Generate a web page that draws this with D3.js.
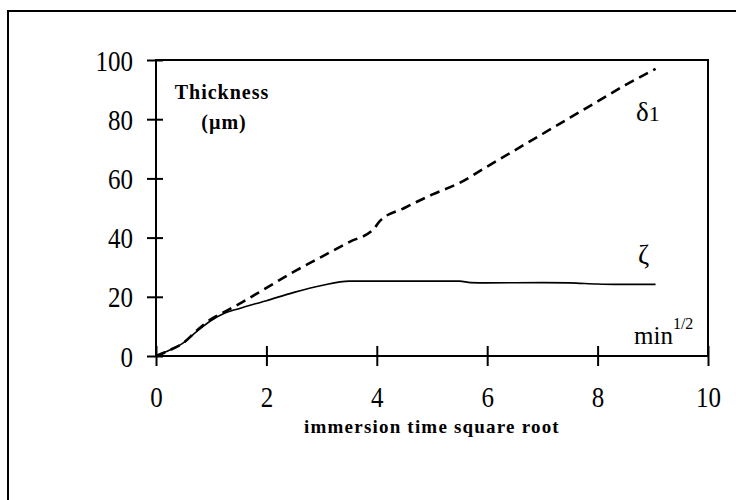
<html>
  <head>
    <script src="https://d3js.org/d3.v7.min.js"></script>
    <style>
      body { margin: 0; background: white; overflow: hidden; }
      svg { display: block; }
      text { font-family: "Liberation Serif", "DejaVu Serif", serif; fill: black; }
    </style>
  </head>
  <body>
    <div id="chart"></div>
    <script>
      // immersion time square root (min^1/2) and thickness (um)
      const zetaX = [0, 0.25, 0.5, 0.75, 1, 1.25, 1.5, 2, 2.5, 3, 3.5, 4, 5, 5.5, 5.7, 6, 7, 7.5, 8, 8.3, 9.05];
      const zetaY = [0, 2, 4.5, 8.5, 12, 14.5, 16, 18.7, 21.5, 23.8, 25.3, 25.3, 25.3, 25.3, 24.8, 24.7, 24.8, 24.7, 24.3, 24.2, 24.2];
      const deltaX = [0, 0.25, 0.5, 0.75, 1, 1.25, 1.5, 2, 2.5, 3, 3.5, 3.95, 4.05, 4.5, 5, 5.5, 6, 6.5, 7, 7.5, 8, 8.5, 9.05];
      const deltaY = [0, 2, 4.5, 8.8, 12.5, 15, 17.5, 23, 28.5, 33.5, 38.5, 43, 45.5, 50, 54.5, 58.5, 64, 69.5, 75, 80.5, 86, 91.5, 97];
      const xTicks = [0, 2, 4, 6, 8, 10];
      const yTicks = [0, 20, 40, 60, 80, 100];

      const width = 736, height = 500;
      const margin = ({top: 60, right: 28, bottom: 144, left: 156});
      const sy = 1.18; // tall serif digits of the scan

      const svg = d3.create('svg')
        .attr('width', width)
        .attr('height', height);

      // outer frame
      svg.append('rect')
        .attr('x', 8).attr('y', 11)
        .attr('width', 800).attr('height', 600)
        .attr('fill', 'none').attr('stroke', 'black').attr('stroke-width', 2);

      const x = d3.scaleLinear().domain([0, 10]).range([margin.left, width - margin.right]);
      const y = d3.scaleLinear().domain([0, 100]).range([height - margin.bottom, margin.top]);

      // plot box
      svg.append('rect')
        .attr('x', x(0)).attr('y', y(100))
        .attr('width', x(10) - x(0)).attr('height', y(0) - y(100))
        .attr('fill', 'none').attr('stroke', 'black').attr('stroke-width', 2);

      // x axis, ticks crossing the line
      const xAxis = svg.append('g')
        .attr('transform', `translate(0, ${y(0)})`)
        .call(d3.axisBottom(x).tickValues(xTicks).tickSize(0).tickPadding(0).tickFormat(d3.format('d')));
      xAxis.select('.domain').remove();
      xAxis.selectAll('.tick line').remove();
      xAxis.selectAll('.tick').append('line')
        .attr('y1', -10).attr('y2', 10)
        .attr('stroke', 'black').attr('stroke-width', 2);
      xAxis.selectAll('.tick text')
        .attr('y', 51 / sy).attr('dy', null)
        .attr('transform', `scale(1, ${sy})`)
        .attr('font-size', 25)
        .attr('font-family', '"Liberation Serif", serif');

      const yAxis = svg.append('g')
        .attr('transform', `translate(${x(0)}, 0)`)
        .call(d3.axisLeft(y).tickValues(yTicks).tickSize(0).tickPadding(0).tickFormat(d3.format('d')));
      yAxis.select('.domain').remove();
      yAxis.selectAll('.tick line').remove();
      yAxis.selectAll('.tick').append('line')
        .attr('x1', -9).attr('x2', 7)
        .attr('stroke', 'black').attr('stroke-width', 2);
      yAxis.selectAll('.tick text')
        .attr('x', -23).attr('dy', '0.34em')
        .attr('transform', `scale(1, ${sy})`)
        .attr('font-size', 25)
        .attr('font-family', '"Liberation Serif", serif');

      const line = d3.line()
        .x(d => x(d[0]))
        .y(d => y(d[1]))
        .curve(d3.curveMonotoneX);

      svg.append('path')
        .datum(deltaX.map((v, i) => [v, deltaY[i]]))
        .attr('d', line)
        .attr('fill', 'none').attr('stroke', 'black')
        .attr('stroke-width', 2.6)
        .attr('stroke-dasharray', '10,6');

      svg.append('path')
        .datum(zetaX.map((v, i) => [v, zetaY[i]]))
        .attr('d', line)
        .attr('fill', 'none').attr('stroke', 'black')
        .attr('stroke-width', 1.6);

      // labels
      svg.append('text')
        .attr('x', 222).attr('y', 99)
        .attr('text-anchor', 'middle')
        .attr('font-size', 20).attr('font-weight', 'bold')
        .attr('letter-spacing', 1)
        .text('Thickness');
      svg.append('text')
        .attr('x', 224).attr('y', 129)
        .attr('text-anchor', 'middle')
        .attr('font-size', 20).attr('font-weight', 'bold')
        .attr('letter-spacing', 1)
        .text('(\u00b5m)');

      svg.append('text')
        .attr('x', 432).attr('y', 433)
        .attr('text-anchor', 'middle')
        .attr('font-size', 19).attr('font-weight', 'bold')
        .attr('letter-spacing', 1.2)
        .text('immersion time square root');

      const d1 = svg.append('text').attr('x', 636).attr('y', 121).attr('font-size', 27);
      d1.append('tspan').text('\u03b4');
      d1.append('tspan').attr('font-size', 22).text('1');

      svg.append('text').attr('x', 638).attr('y', 264).attr('font-size', 27).text('\u03b6');

      const mn = svg.append('text').attr('x', 634).attr('y', 344).attr('font-size', 25);
      mn.append('tspan').text('min');
      mn.append('tspan').attr('font-size', 16).attr('dy', -15).text('1/2');

      document.getElementById('chart').appendChild(svg.node());
    </script>
  </body>
</html>
